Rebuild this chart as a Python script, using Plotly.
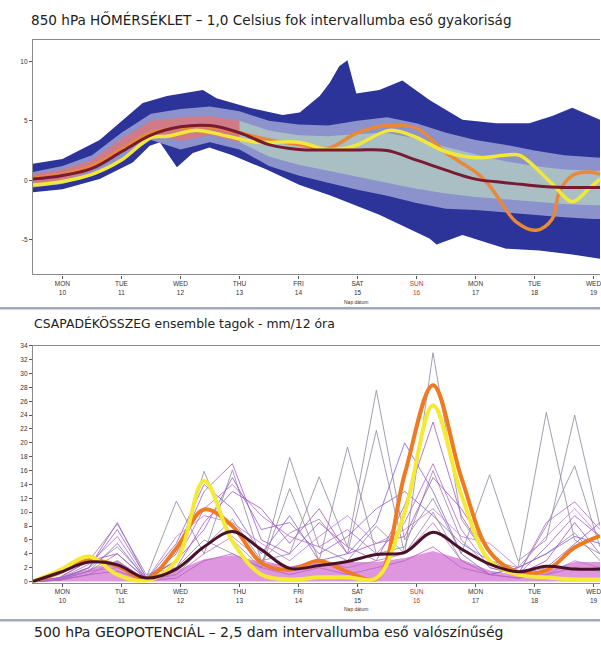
import plotly.graph_objects as go

W, H = 601, 645

# ---------------- top panel: 850 hPa temperature ----------------
DAY_TICKS = [0.5, 1.5, 2.5, 3.5, 4.5, 5.5, 6.5, 7.5, 8.5, 9.5]
DAY_NAMES = ["MON", "TUE", "WED", "THU", "FRI", "SAT", "SUN", "MON", "TUE", "WED"]
DAY_NUMS = ["10", "11", "12", "13", "14", "15", "16", "17", "18", "19"]

ENV_UP_T = [0, 0.5, 1.13, 1.86, 2.27, 2.88, 3.11, 3.67, 4.23, 4.52, 4.86, 5.03, 5.19, 5.33,
            5.48, 5.87, 6.26, 6.72, 7.28, 7.85, 8.41, 8.8, 9.14, 9.61]
ENV_UP = [1.4, 1.8, 3.4, 6.5, 7.1, 7.6, 6.9, 6.1, 5.5, 5.7, 7.1, 8.2, 9.6, 10.1,
          7.3, 7.6, 8.4, 6.75, 5.1, 4.8, 4.8, 5.4, 6.1, 5.1]
ENV_LO_T = [0, 0.5, 1.13, 1.69, 1.98, 2.15, 2.44, 2.71, 2.99, 3.38, 3.96, 4.52, 5.03, 5.31,
            5.87, 6.72, 6.84, 7.28, 8.02, 8.58, 9.14, 9.61]
ENV_LO = [-1.0, -0.75, 0.1, 1.5, 2.9, 3.2, 1.1, 2.3, 2.75, 2.1, 0.9, -0.4, -1.25, -1.8,
          -2.9, -4.9, -5.4, -4.6, -5.75, -5.9, -6.25, -6.6]

T12 = [0, 0.5, 1.0, 1.5, 2.0, 2.5, 3.0, 3.5, 4.0, 4.5, 5.0, 5.5, 6.0, 6.5, 7.0, 7.5,
       8.0, 8.5, 9.0, 9.5, 9.61]
LIGHT_TOP = [0.7, 1.2, 2.1, 4.0, 5.6, 6.0, 6.2, 5.8, 5.0, 4.7, 4.6, 5.0, 5.3, 4.8, 4.0, 3.4,
             3.0, 2.5, 2.1, 1.9, 1.9]
LIGHT_BOT = [-0.6, -0.3, 0.4, 1.8, 3.4, 2.6, 3.2, 2.6, 1.2, 0.4, -0.2, -0.8, -1.3, -1.9, -2.4,
             -2.5, -2.7, -2.9, -3.1, -3.25, -3.25]
CORE_TOP = [0.5, 0.9, 1.7, 3.5, 5.0, 5.3, 5.4, 5.0, 4.2, 3.8, 3.7, 3.9, 4.0, 3.5, 2.8, 2.2,
            1.6, 1.2, 0.9, 0.8, 0.8]
CORE_BOT = [-0.4, 0.0, 0.8, 2.3, 3.9, 3.3, 3.8, 3.2, 2.0, 1.3, 0.8, 0.3, -0.2, -0.7, -1.1,
            -1.4, -1.6, -1.8, -2.0, -2.1, -2.1]

T_MEAN = [0.1, 0.4, 1.0, 2.4, 3.8, 4.5, 4.6, 4.0, 3.0, 2.6, 2.55, 2.55, 2.5, 1.7, 0.85, 0.1,
          -0.2, -0.45, -0.6, -0.6, -0.6]
YEL_T = [0, 0.5, 1.0, 1.5, 2.0, 2.27, 2.8, 3.3, 3.8, 4.5, 5.0, 5.45, 6.04, 6.43, 7.0, 7.5,
         8.0, 8.25, 8.8, 9.14, 9.42, 9.61]
T_YEL = [-0.4, -0.1, 0.5, 1.7, 3.6, 3.7, 4.2, 3.7, 3.2, 3.2, 2.6, 2.9, 4.2, 3.75, 2.4, 1.9,
         2.1, 2.1, -0.3, -1.8, -0.7, 0.1]
ORA_T = [0, 0.5, 1.0, 1.5, 2.0, 2.5, 3.0, 3.5, 4.0, 4.5, 5.0, 5.5, 6.0, 6.5, 7.0, 7.5, 7.73,
         8.19, 8.53, 8.8, 8.92, 9.14, 9.4, 9.61]
T_ORA = [0.2, 0.5, 1.2, 2.6, 4.0, 4.4, 4.5, 4.0, 3.4, 3.0, 2.7, 4.0, 4.6, 4.4, 2.3, 0.7, -0.4,
         -3.5, -4.2, -3.25, -1.0, 0.4, 0.7, 0.5]

# ---------------- bottom panel: precipitation ----------------
PT = [0, 0.45, 0.95, 1.43, 1.92, 2.43, 2.9, 3.38, 3.87, 4.35, 4.85, 5.33, 5.82, 6.3, 6.78,
      7.26, 7.74, 8.22, 8.7, 9.18, 9.61]
P_ORA = [0, 1.3, 3.1, 2.3, 0.4, 4.8, 10.4, 8.0, 2.7, 1.7, 3.0, 1.4, 0.4, 15.5, 28.3, 15.0,
         4.3, 1.4, 1.6, 4.9, 6.6]
P_YEL = [0, 1.6, 3.6, 1.0, 0.1, 3.0, 14.5, 5.8, 1.0, 0.3, 0.6, 0.6, 0.5, 10.0, 25.4, 12.5,
         3.0, 1.0, 0.6, 0.3, 0.3]
P_MEAN = [0, 1.3, 2.8, 2.4, 0.5, 1.8, 5.0, 7.2, 4.6, 1.9, 2.3, 2.9, 3.9, 4.2, 7.1, 4.7, 2.5,
          1.4, 2.2, 1.8, 1.8]
P_DENSE = [0, 0.6, 1.8, 3.0, 0.4, 1.6, 3.2, 3.8, 2.8, 2.2, 2.8, 2.8, 2.8, 3.4, 4.4, 3.2, 1.6,
           0.9, 1.6, 2.8, 2.8]
GRAY_A = [0, 0.5, 3, 8.3, 1, 2, 6, 4, 2, 17.9, 5, 3, 8, 4, 33, 9, 3, 2, 24.4, 6, 4]
GRAY_B = [0, 0.3, 2, 5, 0.5, 11.6, 4, 16.1, 3, 4, 15.1, 5, 27.6, 6, 12, 4, 15.4, 3, 6, 24, 8]
GRAY_C = [0, 0.2, 1.5, 4, 0.3, 3, 15.9, 6, 2, 13.4, 3, 19.4, 4, 5, 16, 6, 2, 1, 8, 16.7, 5]
GRAY_D = [0, 0.2, 1, 3, 0.2, 1, 5, 9, 3, 7, 9, 4, 21.8, 4, 10, 3, 1, 2, 4, 7, 3]
PUR_1 = [0, 0.5, 2, 8.5, 0.5, 4, 13, 17, 6, 4, 8.5, 5, 3, 11, 23, 9.5, 3, 1, 5, 9.5, 6.5]
PUR_2 = [0, 0.4, 2.5, 6.5, 0.3, 3, 10.5, 14, 9.5, 6.5, 5, 7.5, 4, 8.5, 17, 7.5, 2, 1, 8.5, 11.5, 7.5]
PUR_3 = [0, 0.3, 1.5, 5.5, 0.2, 5.5, 14, 10.5, 4, 9.5, 3, 4, 8.5, 20, 13, 4, 1, 2, 4, 6.5, 5.5]
PUR_4 = [0, 0.6, 3, 4, 0.4, 2, 8.5, 13, 10.5, 5.5, 10.5, 4, 5.5, 6.5, 15, 10.5, 4, 1, 3, 8.5, 4]
PUR_5 = [0, 0.2, 1, 3, 0.2, 6.5, 9.5, 8.5, 5.5, 3, 6.5, 9.5, 5.5, 7.5, 10.5, 6.5, 5.5, 2, 6.5, 10.5, 6.5]
PUR_6 = [0, 0.3, 2, 7.5, 0.6, 3, 7.5, 15, 7.5, 8.5, 4, 6.5, 10.5, 13, 9.5, 5.5, 3, 1, 2, 5.5, 8.5]
PUR_7 = [0, 0.4, 1.5, 2, 0.1, 1, 4, 6.5, 3, 2, 3, 2, 3, 4, 8.5, 3, 1, 0.5, 1, 3, 2]
PUR_8 = [0, 0.2, 1, 1.5, 0.1, 0.5, 3, 4, 2, 1, 2, 1, 2, 3, 5, 2, 1, 0.5, 1, 2, 1.5]

TITLE_1 = "850 hPa HŐMÉRSÉKLET – 1,0 Celsius fok intervallumba eső gyakoriság"
TITLE_2 = "CSAPADÉKÖSSZEG ensemble tagok - mm/12 óra"
TITLE_3 = "500 hPa GEOPOTENCIÁL – 2,5 dam intervallumba eső valószínűség"
AXIS_NOTE = "Nap dátum"

FONT = "Liberation Sans, Arial, sans-serif"
TFONT = "DejaVu Sans, Verdana, sans-serif"


def py(px):
    return 1 - px / H


def px_x(px):
    return px / W


def band(xs_top, ys_top, xs_bot, ys_bot, color, xa, ya):
    return go.Scatter(x=list(xs_top) + list(xs_bot)[::-1], y=list(ys_top) + list(ys_bot)[::-1],
                      fill="toself", fillcolor=color, line=dict(width=0, color=color),
                      mode="lines", hoverinfo="skip", showlegend=False, xaxis=xa, yaxis=ya)


fig = go.Figure()

# top panel bands
fig.add_trace(band(ENV_UP_T, ENV_UP, ENV_LO_T, ENV_LO, "#2c3399", "x", "y"))
fig.add_trace(band(T12, LIGHT_TOP, T12, LIGHT_BOT, "#8c92cc", "x", "y"))
split = 8
fig.add_trace(band(T12[:split], CORE_TOP[:split], T12[:split], CORE_BOT[:split], "#d07c88", "x", "y"))
fig.add_trace(band(T12[split - 1:], CORE_TOP[split - 1:], T12[split - 1:], CORE_BOT[split - 1:],
                   "#a9bfc4", "x", "y"))

fig.add_trace(go.Scatter(x=ORA_T, y=T_ORA, mode="lines", line=dict(color="#e8893a", width=3.5, shape="spline"),
                         showlegend=False, xaxis="x", yaxis="y"))
fig.add_trace(go.Scatter(x=YEL_T, y=T_YEL, mode="lines", line=dict(color="#f2e83a", width=3.5, shape="spline"),
                         showlegend=False, xaxis="x", yaxis="y"))
fig.add_trace(go.Scatter(x=T12, y=T_MEAN, mode="lines", line=dict(color="#7a1a32", width=3, shape="spline"),
                         showlegend=False, xaxis="x", yaxis="y"))

# bottom panel
fig.add_trace(go.Scatter(x=PT, y=P_DENSE, mode="lines", fill="tozeroy", fillcolor="rgba(204,96,204,0.65)",
                         line=dict(width=0), showlegend=False, xaxis="x2", yaxis="y2"))
for g in [GRAY_A, GRAY_B, GRAY_C, GRAY_D]:
    fig.add_trace(go.Scatter(x=PT, y=g, mode="lines", line=dict(color="rgba(150,140,162,0.85)", width=1),
                             showlegend=False, xaxis="x2", yaxis="y2"))
pur_cols = ["rgba(160,90,200,0.8)", "rgba(180,100,210,0.8)", "rgba(130,100,210,0.8)",
            "rgba(170,80,190,0.8)", "rgba(190,120,215,0.8)", "rgba(150,95,205,0.8)",
            "rgba(200,110,200,0.8)", "rgba(185,95,195,0.8)"]
for p, c in zip([PUR_1, PUR_2, PUR_3, PUR_4, PUR_5, PUR_6, PUR_7, PUR_8], pur_cols):
    fig.add_trace(go.Scatter(x=PT, y=p, mode="lines", line=dict(color=c, width=1),
                             showlegend=False, xaxis="x2", yaxis="y2"))
fig.add_trace(go.Scatter(x=PT, y=P_ORA, mode="lines", line=dict(color="#ee7a22", width=4, shape="spline"),
                         showlegend=False, xaxis="x2", yaxis="y2"))
fig.add_trace(go.Scatter(x=PT, y=P_YEL, mode="lines", line=dict(color="#f4ea34", width=4, shape="spline"),
                         showlegend=False, xaxis="x2", yaxis="y2"))
fig.add_trace(go.Scatter(x=PT, y=P_MEAN, mode="lines", line=dict(color="#4a1228", width=3, shape="spline"),
                         showlegend=False, xaxis="x2", yaxis="y2"))

ticktext = []
for n, d in zip(DAY_NAMES, DAY_NUMS):
    if n == "SUN":
        ticktext.append(f"<span style='color:#d23030'>{n}<br>{d}</span>")
    else:
        ticktext.append(f"{n}<br>{d}")

xcommon = dict(range=[0, 9.61], tickvals=DAY_TICKS, ticktext=ticktext, ticks="outside", ticklen=3,
               tickcolor="#555", tickfont=dict(size=6.5, color="#333", family=FONT),
               ticklabeloverflow="allow",
               showline=True, linecolor="#8a8a8a", linewidth=1.2, mirror=True, showgrid=False,
               zeroline=False, fixedrange=True)
dom_x = [px_x(33), 1.0]

fig.update_layout(
    width=W, height=H, margin=dict(l=0, r=0, t=0, b=0),
    paper_bgcolor="white", plot_bgcolor="white", showlegend=False,
    xaxis=dict(domain=dom_x, anchor="y", **xcommon),
    yaxis=dict(domain=[py(273), py(36)], range=[-7.92, 11.83], tickvals=[-5, 0, 5, 10],
               ticktext=["-5", "0", "5", "10"], ticks="outside", ticklen=3, tickcolor="#555",
               tickfont=dict(size=6.5, color="#333", family=FONT), showline=True, linecolor="#8a8a8a",
               linewidth=1.2, showgrid=False, zeroline=False, anchor="x"),
    xaxis2=dict(domain=dom_x, anchor="y2", **xcommon),
    yaxis2=dict(domain=[py(584), py(345)], range=[-0.15, 34], tickvals=list(range(0, 35, 2)),
                ticks="outside", ticklen=3, tickcolor="#555",
                tickfont=dict(size=6.5, color="#333", family=FONT), showline=True, linecolor="#8a8a8a",
                linewidth=1.2, showgrid=False, zeroline=False, anchor="x2"),
)

ann = [
    dict(text=TITLE_1, x=px_x(29), y=py(16), size=13.6),
    dict(text=TITLE_2, x=px_x(32), y=py(322), size=12.4),
    dict(text=TITLE_3, x=px_x(32), y=py(634), size=14),
]
for a in ann:
    fig.add_annotation(text=a["text"], x=a["x"], y=a["y"], xref="paper", yref="paper",
                       xanchor="left", yanchor="middle", showarrow=False,
                       font=dict(size=a["size"], color="#222", family=TFONT))
for yy in [301, 611]:
    fig.add_annotation(text=AXIS_NOTE, x=px_x(357), y=py(yy), xref="paper", yref="paper",
                       xanchor="center", yanchor="middle", showarrow=False,
                       font=dict(size=5, color="#333", family=FONT))

for yy in [307, 622]:
    fig.add_shape(type="line", xref="paper", yref="paper", x0=0, x1=1, y0=py(yy), y1=py(yy),
                  line=dict(color="#a3a7bd", width=2.5))

fig.write_html("out.html", config={"displayModeBar": False},
               post_script="document.body.style.margin='0';document.body.style.padding='0';")
